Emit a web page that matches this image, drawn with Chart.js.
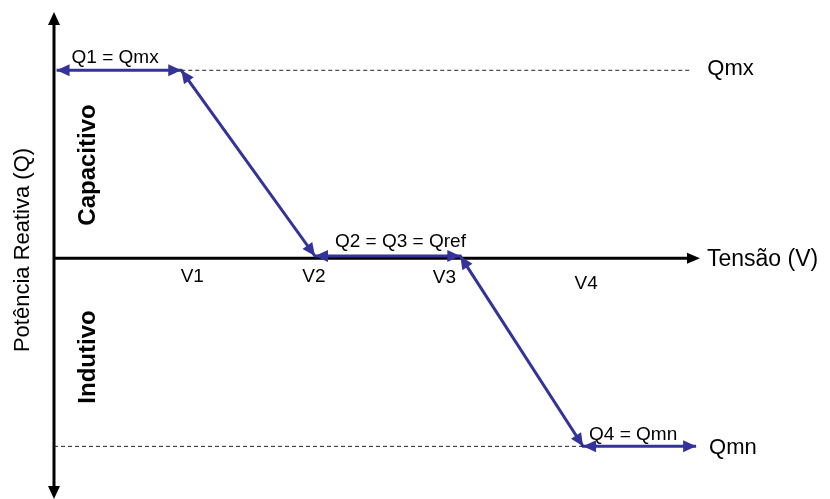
<!DOCTYPE html>
<html>
<head>
<meta charset="utf-8">
<script src="https://cdn.jsdelivr.net/npm/chart.js@4/dist/chart.umd.min.js"></script>
<style>
  html, body { margin: 0; padding: 0; background: #fff; }
  #wrap { width: 830px; height: 499px; }
</style>
</head>
<body>
<div id="wrap"><canvas id="myChart"></canvas></div>
<script>
// volt-var curve: breakpoints on the voltage axis and reactive power levels
const vLabels = ["V1", "V2", "V3", "V4"];
const vPoints = [1.97, 4.04, 6.29, 8.19];
const vStart = 0.04;
const vEnd = 9.94;
const qmxDashEnd = 9.85;
const qMx = 1;
const qRef = 0.012;
const qMn = -1;
const qLabels = ["Q1 = Qmx", "Q2 = Q3 = Qref", "Q4 = Qmn"];

const BLUE = "#33339a";
const FONT = '"Liberation Sans", Arial, sans-serif';

const curve = [
  { x: vStart, y: qMx },
  { x: vPoints[0], y: qMx },
  { x: vPoints[1], y: qRef },
  { x: vPoints[2], y: qRef },
  { x: vPoints[3], y: qMn },
  { x: vEnd, y: qMn },
];

function arrowHead(ctx, fx, fy, tx, ty, len, half) {
  const a = Math.atan2(ty - fy, tx - fx);
  ctx.beginPath();
  ctx.moveTo(tx, ty);
  ctx.lineTo(tx - len * Math.cos(a) + half * Math.sin(a), ty - len * Math.sin(a) - half * Math.cos(a));
  ctx.lineTo(tx - len * Math.cos(a) - half * Math.sin(a), ty - len * Math.sin(a) + half * Math.cos(a));
  ctx.closePath();
  ctx.fill();
}

function vText(ctx, str, x, y, font) {
  ctx.save();
  ctx.translate(x, y);
  ctx.rotate(-Math.PI / 2);
  ctx.font = font;
  ctx.textAlign = "center";
  ctx.textBaseline = "middle";
  ctx.fillText(str, 0, 0);
  ctx.restore();
}

const diagram = {
  id: "diagram",
  beforeDatasetsDraw(chart) {
    const { ctx, scales: { x, y } } = chart;
    const x0 = x.getPixelForValue(0);
    const y0 = y.getPixelForValue(0);
    const top = y.getPixelForValue(y.max);
    const bottom = y.getPixelForValue(y.min);
    const right = x.getPixelForValue(x.max);
    ctx.save();
    ctx.strokeStyle = "#000";
    ctx.fillStyle = "#000";
    ctx.lineWidth = 3;
    // Q axis, arrows on both ends
    ctx.beginPath();
    ctx.moveTo(x0, top + 10);
    ctx.lineTo(x0, bottom - 10);
    ctx.stroke();
    arrowHead(ctx, x0, top + 20, x0, top, 13, 6);
    arrowHead(ctx, x0, bottom - 20, x0, bottom, 13, 6);
    // V axis
    ctx.beginPath();
    ctx.moveTo(x0, y0);
    ctx.lineTo(right - 10, y0);
    ctx.stroke();
    arrowHead(ctx, right - 20, y0, right, y0, 13, 5.5);
    ctx.restore();
  },
  afterDatasetsDraw(chart) {
    const { ctx, scales: { x, y } } = chart;
    const px = v => x.getPixelForValue(v);
    const py = q => y.getPixelForValue(q);

    // double arrows on every segment of the curve
    ctx.save();
    ctx.fillStyle = BLUE;
    for (let i = 0; i < curve.length - 1; i++) {
      const ax = px(curve[i].x), ay = py(curve[i].y);
      const bx = px(curve[i + 1].x), by = py(curve[i + 1].y);
      arrowHead(ctx, bx, by, ax, ay, 13, 6);
      arrowHead(ctx, ax, ay, bx, by, 13, 6);
    }
    ctx.restore();

    ctx.save();
    ctx.fillStyle = "#000";
    ctx.textBaseline = "middle";
    ctx.textAlign = "left";

    ctx.font = "19px " + FONT;
    ctx.fillText(qLabels[0], px(vStart) + 15, py(qMx) - 13);
    ctx.fillText(qLabels[1], px(vPoints[1]) + 20, py(qRef) - 14);
    ctx.fillText(qLabels[2], px(vPoints[3]) + 6, py(qMn) - 12);

    ctx.font = "22px " + FONT;
    ctx.fillText("Qmx", px(qmxDashEnd) + 17, py(qMx) - 1);
    ctx.fillText("Qmn", px(vEnd) + 13, py(qMn) + 2);

    ctx.font = "23px " + FONT;
    ctx.fillText("Tensão (V)", px(x.max) + 7, py(0) + 1);

    // voltage breakpoint labels under the axis
    const nudgeX = [11, -1, -16, 3];
    const nudgeY = [18, 18, 19, 25];
    ctx.font = "19px " + FONT;
    ctx.textAlign = "center";
    vLabels.forEach((lab, i) => {
      ctx.fillText(lab, px(vPoints[i]) + nudgeX[i], py(0) + nudgeY[i]);
    });

    vText(ctx, "Potência Reativa (Q)", 23, 250, "22px " + FONT);
    vText(ctx, "Capacitivo", 88, 165, "bold 24px " + FONT);
    vText(ctx, "Indutivo", 88, 357, "bold 24px " + FONT);
    ctx.restore();
  },
};

const ctx = document.getElementById("myChart").getContext("2d");
const myChart = new Chart(ctx, {
  type: "scatter",
  data: {
    datasets: [
      {
        data: [{ x: vPoints[0], y: qMx }, { x: qmxDashEnd, y: qMx }],
        showLine: true,
        borderColor: "#222",
        borderWidth: 1,
        borderDash: [4, 3],
        pointRadius: 0,
      },
      {
        data: [{ x: 0, y: qMn }, { x: vPoints[3], y: qMn }],
        showLine: true,
        borderColor: "#222",
        borderWidth: 1,
        borderDash: [4, 3],
        pointRadius: 0,
      },
      {
        data: curve,
        showLine: true,
        borderColor: BLUE,
        borderWidth: 3,
        pointRadius: 0,
        tension: 0,
      },
    ],
  },
  options: {
    responsive: true,
    maintainAspectRatio: false,
    animation: false,
    layout: { padding: { left: 54, right: 130, top: 12, bottom: 0 } },
    plugins: { legend: { display: false }, tooltip: { enabled: false } },
    scales: {
      x: { type: "linear", min: 0, max: 10, display: false },
      y: { type: "linear", min: -1.28, max: 1.31, display: false },
    },
  },
  plugins: [diagram],
});
</script>
</body>
</html>
